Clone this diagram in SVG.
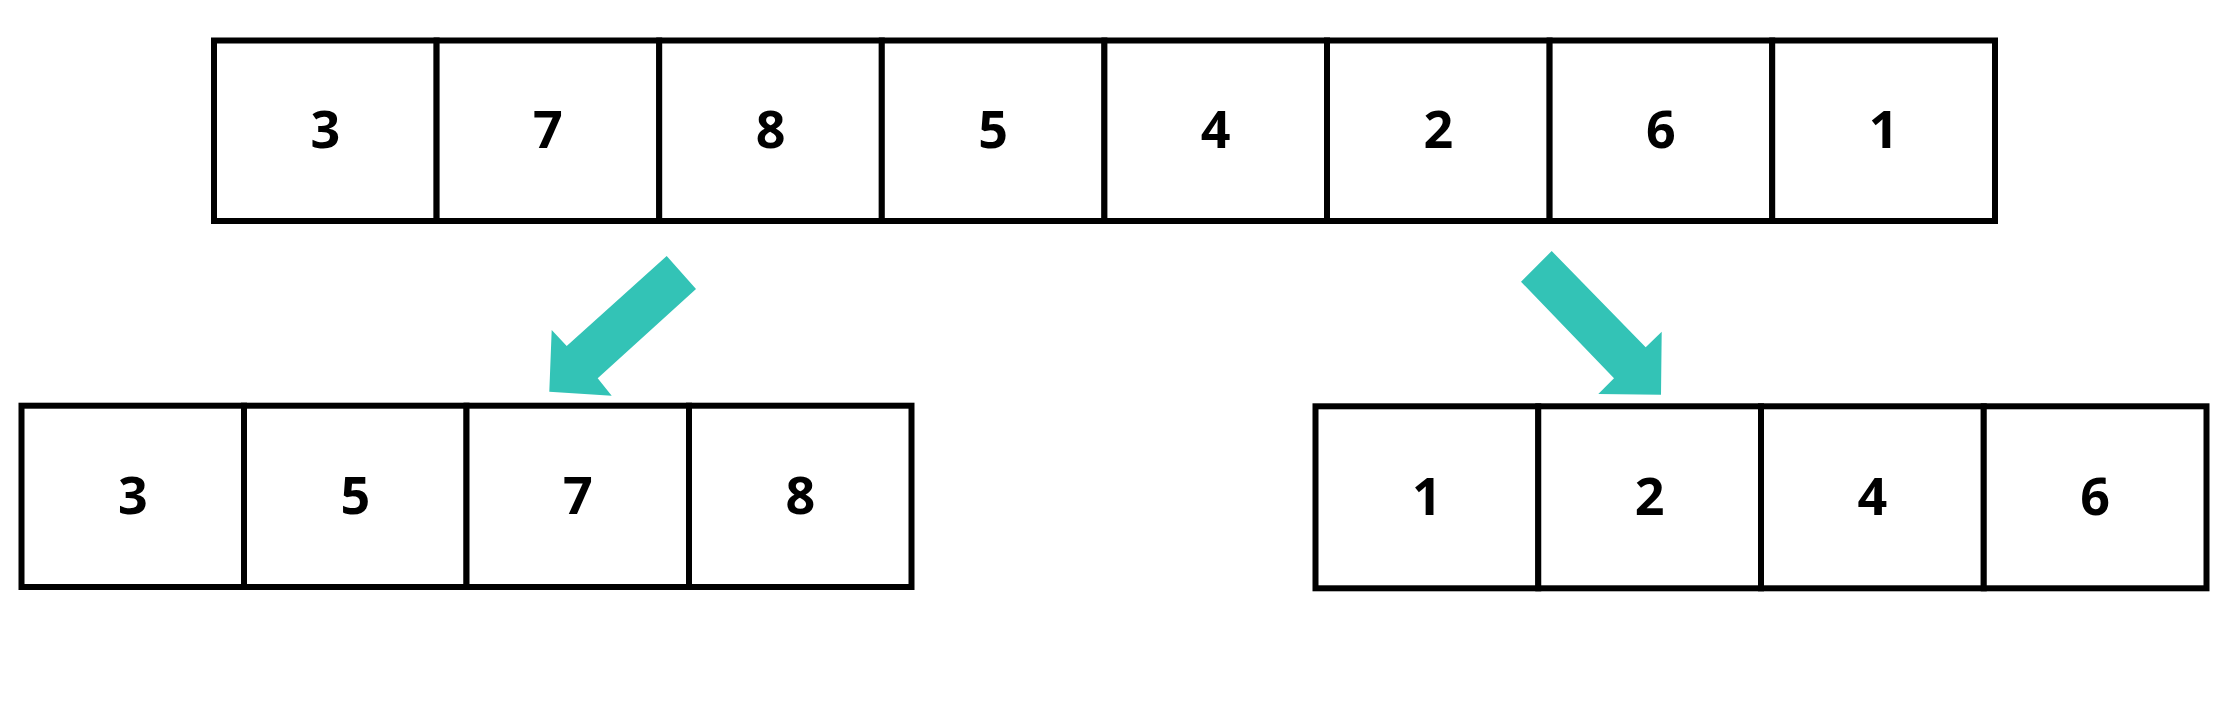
<svg xmlns="http://www.w3.org/2000/svg" width="2216" height="705" viewBox="0 0 2216 705">
<style>
.cell rect{fill:#fff;stroke:#000;stroke-width:6}
.cell text{font-family:"Open Sans","Noto Sans","Liberation Sans",sans-serif;font-weight:700;font-size:52px;fill:#000;text-anchor:middle}
.arrow{fill:#33c3b6;stroke:none}
</style>
<rect width="2216" height="705" fill="#fff"/>
<g id="top-row">
<g id="t0" class="cell"><rect x="214" y="40.5" width="222.6" height="180.5"/><text x="325.3" y="148.3">3</text></g>
<g id="t1" class="cell"><rect x="436.6" y="40.5" width="222.6" height="180.5"/><text x="547.9" y="148.3">7</text></g>
<g id="t2" class="cell"><rect x="659.2" y="40.5" width="222.6" height="180.5"/><text x="770.5" y="148.3">8</text></g>
<g id="t3" class="cell"><rect x="881.8" y="40.5" width="222.6" height="180.5"/><text x="993.1" y="148.3">5</text></g>
<g id="t4" class="cell"><rect x="1104.4" y="40.5" width="222.6" height="180.5"/><text x="1215.7" y="148.3">4</text></g>
<g id="t5" class="cell"><rect x="1327" y="40.5" width="222.6" height="180.5"/><text x="1438.3" y="148.3">2</text></g>
<g id="t6" class="cell"><rect x="1549.6" y="40.5" width="222.6" height="180.5"/><text x="1660.9" y="148.3">6</text></g>
<g id="t7" class="cell"><rect x="1772.2" y="40.5" width="222.8" height="180.5"/><text x="1883.6" y="148.3">1</text></g>
</g>
<g id="left-row">
<g id="l0" class="cell"><rect x="21.5" y="405.7" width="222.5" height="181.3"/><text x="132.75" y="514">3</text></g>
<g id="l1" class="cell"><rect x="244" y="405.7" width="222.5" height="181.3"/><text x="355.25" y="514">5</text></g>
<g id="l2" class="cell"><rect x="466.5" y="405.7" width="222.5" height="181.3"/><text x="577.75" y="514">7</text></g>
<g id="l3" class="cell"><rect x="689" y="405.7" width="222.5" height="181.3"/><text x="800.25" y="514">8</text></g>
</g>
<g id="right-row">
<g id="r0" class="cell"><rect x="1315.5" y="406.3" width="222.75" height="182"/><text x="1426.9" y="514.5">1</text></g>
<g id="r1" class="cell"><rect x="1538.25" y="406.3" width="222.75" height="182"/><text x="1649.6" y="514.5">2</text></g>
<g id="r2" class="cell"><rect x="1761" y="406.3" width="222.75" height="182"/><text x="1872.4" y="514.5">4</text></g>
<g id="r3" class="cell"><rect x="1983.75" y="406.3" width="222.75" height="182"/><text x="2095.1" y="514.5">6</text></g>
</g>
<g id="connectors">
<polygon class="arrow" points="666.7,256 696,289 597.7,378.3 611.7,395.7 549.3,391.7 551.7,330 566.7,346"/>
<polygon class="arrow" points="1551.7,251 1521,281.7 1614,378.3 1598.3,394 1661,394.7 1661.7,331.7 1645.7,347.3"/>
</g>
</svg>
